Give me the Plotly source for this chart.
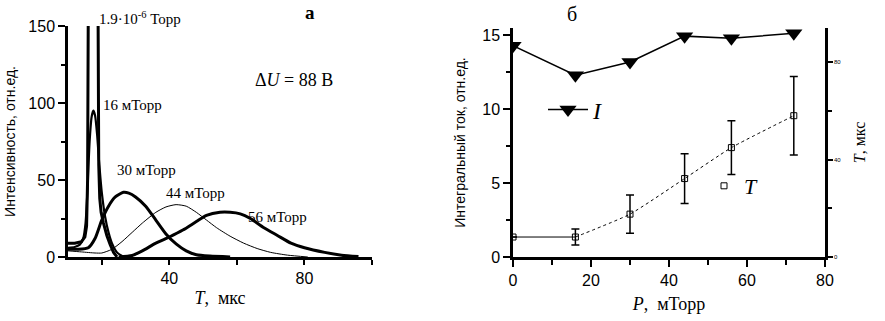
import plotly.graph_objects as go

W, H = 885, 321

# ---------- panel (a): intensity vs time ----------
t_lo = [10, 12, 14, 15, 15.5, 15.8, 16.0, 17.4, 18.9, 19.1, 19.4, 19.8, 20.5, 21.5, 22.5, 23.5, 24.5]
i_lo = [9, 9, 10, 13, 20, 50, 160, 600, 160, 60, 38, 29, 22, 14, 8, 3, 0]

t_16 = [10, 12, 13.5, 14.5, 15.2, 15.8, 16.4, 17.0, 17.5, 18.0, 18.6, 19.2, 20, 21, 22, 23, 24.5, 26.5]
i_16 = [6, 6.5, 8, 12, 22, 45, 75, 91, 95, 92, 80, 62, 42, 26, 16, 9, 3, 0]

t_30 = [10, 13, 16, 18, 20, 22, 24, 26.4, 28, 30, 33, 36, 39, 42, 45, 48, 52, 58]
i_30 = [5, 5, 6, 12, 24, 33, 39, 42, 41.5, 39, 33, 24, 15, 8.5, 4, 1.5, 0.6, 0]

t_44 = [10, 14, 18, 20, 23, 26, 29, 32, 36, 39, 42, 45, 48, 51, 54, 58, 62, 66, 70, 75, 81]
i_44 = [4, 3.3, 2.6, 2.6, 5, 10, 16, 22, 29, 32.5, 34, 33, 29, 24, 19, 13.5, 9, 5.5, 3, 1.2, 0]

t_56 = [25, 29, 32, 36, 40, 44, 48, 51, 55, 58, 61, 64, 68, 72, 76, 80, 86, 91, 96]
i_56 = [0, 1, 4, 9, 13, 17.5, 23, 27, 29, 29, 28, 25, 19, 14, 9, 6, 3, 1.2, 0.3]

curve_labels = ["1.9·10<sup>-6</sup> Торр", "16 мТорр", "30 мТорр", "44 мТорр", "56 мТорр"]

# ---------- panel (b): integral current and T vs pressure ----------
P = [0, 16, 30, 44, 56, 72]
I_val = [14.3, 12.3, 13.2, 14.95, 14.8, 15.15]
T_val = [8.2, 8.2, 17.6, 32.2, 44.9, 58.0]
T_err = [0, 3.3, 7.8, 10.2, 11.0, 16.1]

SANS = "Liberation Sans, Arial, sans-serif"
SERIF = "Liberation Serif, Times New Roman, serif"


def px(x):
    return x / W


def py(y):
    return 1 - y / H


fig = go.Figure()

curves = [(t_lo, i_lo, 3, "linear"), (t_16, i_16, 2.2, "spline"), (t_30, i_30, 3, "spline"),
          (t_44, i_44, 1, "spline"), (t_56, i_56, 3, "spline")]
for (tx, iy, w, shp), name in zip(curves, curve_labels):
    line = dict(color="black", width=w, shape=shp)
    if shp == "spline":
        line["smoothing"] = 0.6
    fig.add_trace(go.Scatter(x=tx, y=iy, mode="lines", line=line,
                             name=name, showlegend=False, xaxis="x", yaxis="y"))

fig.add_trace(go.Scatter(x=P, y=I_val, mode="lines+markers", name="<i>I</i>",
                         line=dict(color="black", width=1.5),
                         marker=dict(symbol="triangle-down", size=15, color="black"),
                         xaxis="x2", yaxis="y2", legend="legend"))

fig.add_trace(go.Scatter(x=P[:2], y=T_val[:2], mode="lines", showlegend=False,
                         line=dict(color="black", width=1), xaxis="x2", yaxis="y3"))
fig.add_trace(go.Scatter(x=P[1:], y=T_val[1:], mode="lines", showlegend=False,
                         line=dict(color="black", width=1, dash="dot", shape="spline", smoothing=0.5),
                         xaxis="x2", yaxis="y3"))
fig.add_trace(go.Scatter(x=P, y=T_val, mode="markers", name="<i>T</i>",
                         marker=dict(symbol="square-open", size=6, color="black", line=dict(width=1)),
                         error_y=dict(type="data", array=T_err, color="black", thickness=1.5, width=4),
                         xaxis="x2", yaxis="y3", legend="legend2"))

axis_common = dict(showline=True, linecolor="black", showgrid=False, zeroline=False,
                   ticks="outside", tickcolor="black", tickfont=dict(family=SANS, size=16, color="black"),
                   automargin=False)

fig.update_layout(
    width=W, height=H,
    margin=dict(l=0, r=0, t=0, b=0),
    paper_bgcolor="white", plot_bgcolor="rgba(0,0,0,0)",
    xaxis=dict(**axis_common, domain=[px(68), px(372)], range=[10, 100], anchor="y",
               linewidth=2.5, tickwidth=2, ticklen=5, tickvals=[40, 80],
               minor=dict(tickvals=[20, 60, 100], ticks="outside", ticklen=5, tickwidth=2, tickcolor="black"),
               title=dict(text="<i>T</i>,  мкс", font=dict(family=SERIF, size=18, color="black"), standoff=6)),
    yaxis=dict(**axis_common, domain=[py(257), py(26)], range=[0, 150], anchor="x",
               linewidth=2.5, tickwidth=2, ticklen=7, tickvals=[0, 50, 100, 150],
               minor=dict(tickvals=[25, 75, 125], ticks="outside", ticklen=4, tickwidth=2, tickcolor="black"),
               title=dict(text="Интенсивность, отн.ед.", font=dict(family=SANS, size=14, color="black"), standoff=10)),
    xaxis2=dict(**axis_common, domain=[px(513), px(825)], range=[0, 80], anchor="y2",
                linewidth=2.5, tickwidth=2, ticklen=7, dtick=20,
                minor=dict(dtick=10, ticks="outside", ticklen=5, tickwidth=2, tickcolor="black"),
                title=dict(text="<i>P</i>,  мТорр", font=dict(family=SERIF, size=18, color="black"), standoff=10)),
    yaxis2=dict(**axis_common, domain=[py(257), py(28)], range=[0, 15.5], anchor="x2",
                linewidth=2.5, tickwidth=2, ticklen=7, dtick=5,
                minor=dict(dtick=2.5, ticks="outside", ticklen=4, tickwidth=2, tickcolor="black"),
                title=dict(text="Интегральный ток, отн.ед.", font=dict(family=SANS, size=14, color="black"), standoff=14)),
    yaxis3=dict(showline=True, linecolor="black", linewidth=2.5, showgrid=False, zeroline=False,
                overlaying="y2", side="right", anchor="x2", range=[0, 94], automargin=False,
                ticks="outside", tickcolor="black", tickwidth=1.5, ticklen=5, tickvals=[0, 40, 80],
                minor=dict(tickvals=[20, 60], ticks="outside", ticklen=4, tickwidth=1.5, tickcolor="black"),
                tickfont=dict(family=SANS, size=6, color="black"),
                title=dict(text="<i>T</i>, мкс", font=dict(family=SERIF, size=16, color="black"), standoff=14)),
    legend=dict(x=px(543), y=py(110), xanchor="left", yanchor="middle", bgcolor="rgba(0,0,0,0)",
                font=dict(family=SERIF, size=24, color="black"), itemwidth=40, tracegroupgap=0),
    legend2=dict(x=px(704), y=py(186), xanchor="left", yanchor="middle", bgcolor="rgba(0,0,0,0)",
                 font=dict(family=SERIF, size=22, color="black"), itemwidth=30),
)

ann = [
    (310, 12, "<b>а</b>", SERIF, 19),
    (572, 14, "б", SERIF, 20),
]
for x, y, t, f, s in ann:
    fig.add_annotation(x=px(x), y=py(y), xref="paper", yref="paper", text=t, showarrow=False,
                       font=dict(family=f, size=s, color="black"), xanchor="center", yanchor="middle")

fig.add_annotation(x=px(253), y=py(80), xref="paper", yref="paper", text="Δ<i>U</i> = 88 В", showarrow=False,
                   font=dict(family=SERIF, size=18, color="black"), xanchor="left", yanchor="middle")

label_pos = [(97, 18), (101, 105), (115, 170), (164, 193), (246, 217)]
for (x, y), t in zip(label_pos, curve_labels):
    fig.add_annotation(x=px(x), y=py(y), xref="paper", yref="paper", text=t, showarrow=False,
                       font=dict(family=SERIF, size=15, color="black"), xanchor="left", yanchor="middle")

fig.write_html("out.html", config={"displayModeBar": False},
               post_script="document.body.style.margin='0';")
